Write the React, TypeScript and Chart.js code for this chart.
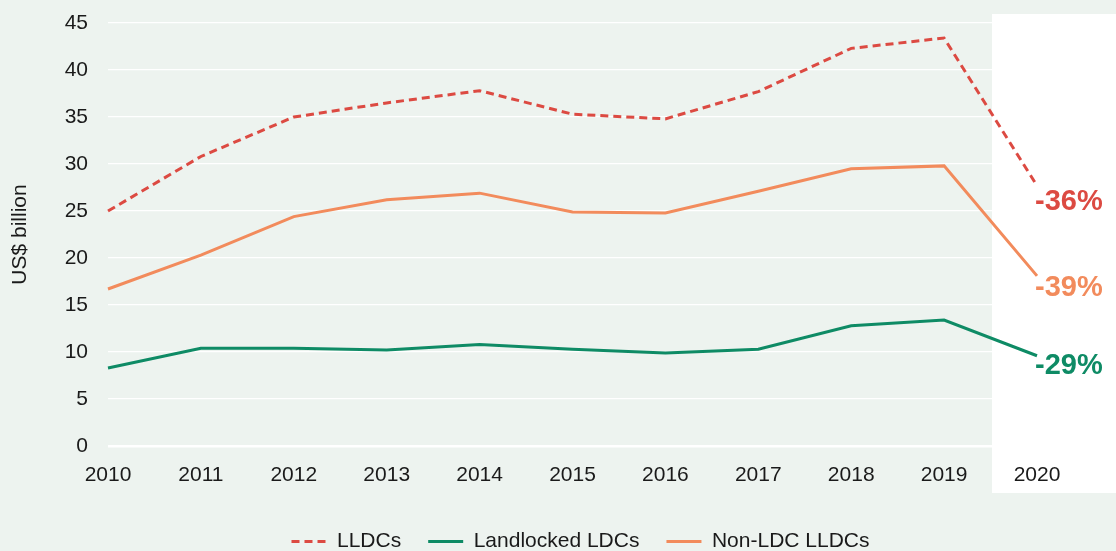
import React, { useEffect, useRef } from "react";
import { Chart, registerables } from "chart.js";

Chart.register(...registerables);

const years = ["2010", "2011", "2012", "2013", "2014", "2015", "2016", "2017", "2018", "2019", "2020"];
const lldcs = [25.0, 30.8, 35.0, 36.5, 37.8, 35.3, 34.8, 37.7, 42.3, 43.4, 27.7];
const landlockedLdcs = [8.3, 10.4, 10.4, 10.2, 10.8, 10.3, 9.9, 10.3, 12.8, 13.4, 9.6];
const nonLdcLldcs = [16.7, 20.3, 24.4, 26.2, 26.9, 24.9, 24.8, 27.1, 29.5, 29.8, 18.1];
const seriesNames = ["LLDCs", "Landlocked LDCs", "Non-LDC LLDCs"];
const changeLabels = ["-36%", "-29%", "-39%"];
const yMin = 0;
const yMax = 45;
const yStep = 5;

const RED = "#dc4a42";
const GREEN = "#0e8b65";
const ORANGE = "#f28b5c";
const BG = "#edf3ef";
const FONT = "'Liberation Sans', Arial, Helvetica, sans-serif";

const chartPlugin = {
  id: "decor",
  beforeDraw(chart: any) {
    const { ctx, width, height } = chart;
    ctx.save();
    ctx.fillStyle = BG;
    ctx.fillRect(0, 0, width, height);
    ctx.restore();
  },
  afterLayout(chart: any) {
    const lg = chart.legend;
    if (lg) {
      lg.left += 62;
      lg.right += 62;
    }
  },
  beforeDatasetsDraw(chart: any) {
    const { ctx, chartArea } = chart;
    const xs = chart.scales.x;
    const n = years.length;
    const x0 = (xs.getPixelForValue(n - 2) + xs.getPixelForValue(n - 1)) / 2 + 1.5;
    ctx.save();
    ctx.fillStyle = "#ffffff";
    ctx.fillRect(x0, chartArea.top - 9, chart.width - x0, chartArea.bottom - chartArea.top + 56);
    ctx.restore();
  },
  afterDatasetsDraw(chart: any) {
    const { ctx } = chart;
    const dy = [16, 10, 12];
    ctx.save();
    ctx.font = `bold 29px ${FONT}`;
    ctx.textAlign = "left";
    ctx.textBaseline = "middle";
    chart.data.datasets.forEach((ds: any, i: number) => {
      const meta = chart.getDatasetMeta(i);
      const pt = meta.data[meta.data.length - 1];
      ctx.fillStyle = ds.borderColor;
      ctx.fillText(changeLabels[i], pt.x - 2, pt.y + dy[i]);
    });
    ctx.restore();
  },
};

export default function App() {
  const ref = useRef<HTMLCanvasElement | null>(null);
  useEffect(() => {
    if (!ref.current) return;
    const chart = new Chart(ref.current, {
      type: "line",
      data: {
        labels: years,
        datasets: [
          {
            label: seriesNames[0],
            data: lldcs,
            borderColor: RED,
            backgroundColor: RED,
            borderWidth: 3,
            borderDash: [8, 5],
            pointRadius: 0,
            tension: 0,
          },
          {
            label: seriesNames[1],
            data: landlockedLdcs,
            borderColor: GREEN,
            backgroundColor: GREEN,
            borderWidth: 3,
            pointRadius: 0,
            tension: 0,
          },
          {
            label: seriesNames[2],
            data: nonLdcLldcs,
            borderColor: ORANGE,
            backgroundColor: ORANGE,
            borderWidth: 3,
            pointRadius: 0,
            tension: 0,
          },
        ],
      },
      options: {
        responsive: false,
        animation: false,
        layout: { padding: { top: 23, right: 79, left: 0, bottom: 0 } },
        plugins: {
          tooltip: { enabled: false },
          legend: {
            position: "bottom",
            labels: {
              usePointStyle: true,
              pointStyle: "line",
              pointStyleWidth: 35,
              padding: 27,
              color: "#1a1a1a",
              font: { family: FONT, size: 21 },
              generateLabels: (c: any) => {
                const items = (Chart.defaults.plugins.legend.labels as any).generateLabels(c);
                items.forEach((it: any, i: number) => {
                  const ds = c.data.datasets[i];
                  it.lineDash = ds.borderDash || [];
                  it.strokeStyle = ds.borderColor;
                  it.fillStyle = ds.borderColor;
                  it.lineWidth = 3;
                  it.pointStyle = "line";
                });
                return items;
              },
            },
          },
        },
        scales: {
          x: {
            offset: false,
            grid: { display: false, drawTicks: false },
            border: { display: false },
            ticks: { color: "#1a1a1a", font: { family: FONT, size: 21 }, padding: 17, maxRotation: 0, autoSkip: false, z: 1 },
            afterFit: (s: any) => {
              s.height = 58;
            },
          },
          y: {
            min: yMin,
            max: yMax,
            grid: {
              color: "#ffffff",
              lineWidth: (c: any) => (c.tick && c.tick.value === 0 ? 2.5 : 1.2),
              drawTicks: true,
              tickLength: 20,
              tickColor: "rgba(0,0,0,0)",
            },
            border: { display: false },
            ticks: { stepSize: yStep, color: "#1a1a1a", font: { family: FONT, size: 21 }, padding: 0 },
            title: {
              display: true,
              text: "US$ billion",
              color: "#1a1a1a",
              font: { family: FONT, size: 21 },
              padding: { top: 8, bottom: 0 },
            },
            afterFit: (s: any) => {
              s.width = 108;
            },
          },
        },
      },
      plugins: [chartPlugin],
    });
    return () => chart.destroy();
  }, []);
  return (
    <div style={{ position: "fixed", left: 0, top: 0, width: 1116, height: 562, background: BG }}>
      <canvas ref={ref} width={1116} height={562} style={{ display: "block" }} />
    </div>
  );
}
